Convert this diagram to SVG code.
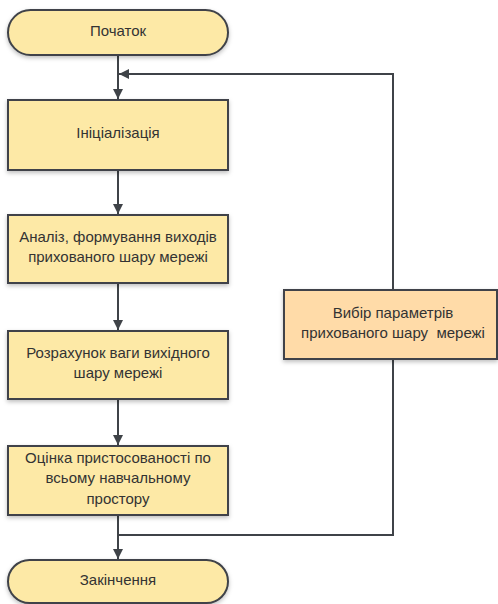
<svg xmlns="http://www.w3.org/2000/svg" width="498" height="604" viewBox="0 0 498 604">
  <defs>
    <filter id="shadow" x="-10%" y="-10%" width="130%" height="140%">
      <feDropShadow dx="0" dy="2" stdDeviation="2" flood-color="#000" flood-opacity="0.25"/>
    </filter>
    <marker id="arrow" viewBox="0 0 10 10" refX="10" refY="5" markerWidth="10" markerHeight="10" markerUnits="userSpaceOnUse" orient="auto">
      <path d="M0,0 L10,5 L0,10 Z" fill="#3f4348"/>
    </marker>
  </defs>
  <style>
    .node { fill: #fde9a6; stroke: #3f4348; stroke-width: 2; filter: url(#shadow); }
    .alt { fill: #ffdba8; }
    .label { font-family: "Liberation Sans", Arial, sans-serif; font-size: 15px; fill: #333; text-anchor: middle; dominant-baseline: middle; }
    .edge { fill: none; stroke: #3f4348; stroke-width: 2; }
  </style>
  <rect width="498" height="604" fill="#fff"/>

  <g id="connectors">
    <path class="edge" d="M118,55 V99" marker-end="url(#arrow)"/>
    <path class="edge" d="M118,170 V214" marker-end="url(#arrow)"/>
    <path class="edge" d="M118,283 V330" marker-end="url(#arrow)"/>
    <path class="edge" d="M118,399 V445" marker-end="url(#arrow)"/>
    <path class="edge" d="M118,515 V559" marker-end="url(#arrow)"/>
    <path class="edge" d="M118,535 H393 V359"/>
    <path class="edge" d="M393,290 V74 H119" marker-end="url(#arrow)"/>
  </g>

  <g id="start">
    <rect class="node" x="8" y="10" width="220" height="45" rx="22.5" ry="22.5"/>
    <text class="label" x="118" y="32">Початок</text>
  </g>

  <g id="init">
    <rect class="node" x="8" y="100" width="220" height="70"/>
    <text class="label" x="118" y="134">Ініціалізація</text>
  </g>

  <g id="analysis">
    <rect class="node" x="8" y="215" width="220" height="68"/>
    <text class="label" x="118" y="238">Аналіз, формування виходів</text>
    <text class="label" x="118" y="258">прихованого шару мережі</text>
  </g>

  <g id="weights">
    <rect class="node" x="8" y="331" width="220" height="68"/>
    <text class="label" x="118" y="354">Розрахунок ваги вихідного</text>
    <text class="label" x="118" y="374">шару мережі</text>
  </g>

  <g id="fitness">
    <rect class="node" x="8" y="446" width="220" height="69"/>
    <text class="label" x="118" y="459">Оцінка пристосованості по</text>
    <text class="label" x="118" y="479">всьому навчальному</text>
    <text class="label" x="118" y="500">простору</text>
  </g>

  <g id="end">
    <rect class="node" x="8" y="560" width="220" height="43" rx="21.5" ry="21.5"/>
    <text class="label" x="118" y="581">Закінчення</text>
  </g>

  <g id="params">
    <rect class="node alt" x="284" y="290" width="213" height="69"/>
    <text class="label" x="393" y="314">Вибір параметрів</text>
    <text class="label" x="393" y="334" xml:space="preserve">прихованого шару  мережі</text>
  </g>
</svg>
